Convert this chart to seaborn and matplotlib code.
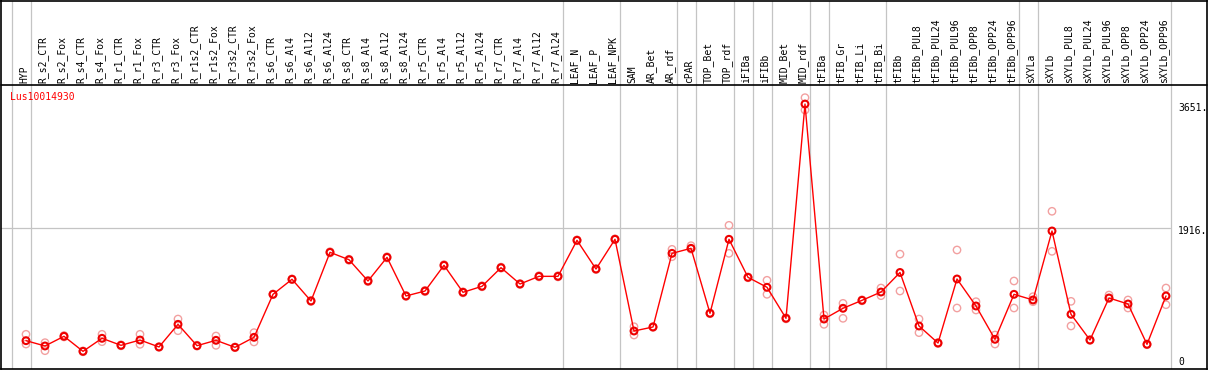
import numpy as np
import pandas as pd
import matplotlib
matplotlib.use("Agg")
import matplotlib.pyplot as plt
import seaborn as sns

# ---------------- data ----------------
gene = "Lus10014930"
categories = [
    "HYP", "R_s2_CTR", "R_s2_Fox", "R_s4_CTR", "R_s4_Fox", "R_r1_CTR", "R_r1_Fox",
    "R_r3_CTR", "R_r3_Fox", "R_r1s2_CTR", "R_r1s2_Fox", "R_r3s2_CTR", "R_r3s2_Fox",
    "R_s6_CTR", "R_s6_Al4", "R_s6_Al12", "R_s6_Al24", "R_s8_CTR", "R_s8_Al4",
    "R_s8_Al12", "R_s8_Al24", "R_r5_CTR", "R_r5_Al4", "R_r5_Al12", "R_r5_Al24",
    "R_r7_CTR", "R_r7_Al4", "R_r7_Al12", "R_r7_Al24", "LEAF_N", "LEAF_P", "LEAF_NPK",
    "SAM", "AR_Bet", "AR_rdf", "cPAR", "TOP_Bet", "TOP_rdf", "iFIBa", "iFIBb",
    "MID_Bet", "MID_rdf", "tFIBa", "tFIB_Gr", "tFIB_Li", "tFIB_Bi", "tFIBb",
    "tFIBb_PUL8", "tFIBb_PUL24", "tFIBb_PUL96", "tFIBb_OPP8", "tFIBb_OPP24",
    "tFIBb_OPP96", "sXYLa", "sXYLb", "sXYLb_PUL8", "sXYLb_PUL24", "sXYLb_PUL96",
    "sXYLb_OPP8", "sXYLb_OPP24", "sXYLb_OPP96",
]
means = [348, 274, 409, 199, 381, 283, 357, 260, 576, 278, 353, 255, 395,
         995, 1205, 902, 1581, 1478, 1181, 1511, 972, 1041, 1400, 1023, 1107,
         1367, 1139, 1246, 1246, 1749, 1348, 1763, 483, 539, 1567, 1637, 730,
         1763, 1232, 1093, 660, 3651, 650, 800, 911, 1027, 1300, 553, 315, 1209,
         832, 367, 995, 916, 1879, 716, 357, 944, 860, 297, 972]
rep_hi = [437, 320, 420, 205, 437, 290, 437, 265, 650, 285, 413, 260, 460,
          1000, 1210, 910, 1590, 1485, 1190, 1520, 980, 1050, 1410, 1030, 1115,
          1375, 1145, 1255, 1255, 1755, 1355, 1770, 543, 545, 1623, 1674, 736,
          1958, 1238, 1191, 668, 3740, 706, 869, 918, 1083, 1556, 650, 322, 1614,
          892, 427, 1181, 962, 2154, 897, 362, 985, 916, 303, 1083]
rep_lo = [301, 208, 400, 193, 334, 276, 297, 255, 487, 272, 283, 250, 330,
          990, 1200, 895, 1572, 1470, 1172, 1502, 965, 1032, 1390, 1015, 1100,
          1360, 1132, 1238, 1238, 1742, 1340, 1756, 427, 533, 1520, 1625, 724,
          1567, 1226, 995, 652, 3568, 576, 660, 904, 976, 1041, 460, 308, 804,
          776, 301, 804, 892, 1595, 553, 352, 935, 804, 291, 850]
group_ends = [-1, 0, 28, 31, 34, 35, 37, 38, 39, 41, 42, 45, 52, 53, 60]
ref_values = [3651, 1916, 0]
ref_labels = ["3651.", "1916.", "0"]

# ---------------- frames ----------------
pos = np.arange(len(categories))
df = pd.DataFrame({"pos": pos, "cat": categories, "mean": means})
df_rep = pd.DataFrame({
    "pos": np.concatenate([pos, pos]),
    "value": np.concatenate([rep_hi, rep_lo]),
})

sns.set_theme(style="white")
plt.rcParams["font.family"] = ["DejaVu Sans Mono", "DejaVu Sans"]

W, H = 1209, 370
fig = plt.figure(figsize=(W / 100, H / 100), dpi=100)
ax = fig.add_axes([1 / W, 1 / H, 1206 / W, 368.5 / H])

# pixel geometry of reference: x_px = 26 + 19*i ; y_top = 365.6 - 0.07164*v
x0, dx = 26.0, 19.0
y0, k = 365.6, 0.07164
ax.set_xlim((1 - x0) / dx, (1207 - x0) / dx)
ax.set_ylim((y0 - 369) / k, (y0 - 0.5) / k)

grey = "#c4c4c4"
for g in group_ends:
    ax.axvline(g + 0.25, color=grey, lw=0.9, zorder=1)
ax.axhline(1916, xmin=0, xmax=(1170 - 1) / 1206, color=grey, lw=0.9, zorder=1)

header_frac = (369 - 85) / 368.5
ax.plot([0, 1], [header_frac, header_frac], transform=ax.transAxes,
        color="black", lw=1.2, zorder=5, clip_on=False)

# replicates
sns.scatterplot(data=df_rep, x="pos", y="value", ax=ax, marker="o", s=28,
                facecolors="none", edgecolor="#f2a0a0", linewidth=1.0,
                zorder=3, legend=False)
# mean line
sns.lineplot(data=df, x="pos", y="mean", ax=ax, color="#ff0000", lw=1.0,
             zorder=4, legend=False)
sns.scatterplot(data=df, x="pos", y="mean", ax=ax, marker="o", s=24,
                facecolors="none", edgecolor="#ee0000", linewidth=1.5,
                zorder=6, legend=False)

# header labels
lab_frac = (369 - 83) / 368.5
xt = ax.get_xaxis_transform()
for i, c in enumerate(categories):
    ax.text(i - 2 / dx, lab_frac, c, transform=xt, rotation=90,
            ha="center", va="bottom", fontsize=7, color="black")

ax.text((10 - 1) / 1206, (369 - 97.5) / 368.5, gene, transform=ax.transAxes,
        ha="left", va="center", fontsize=7, color="#ff0000")

offsets_px = [-4, -3, 4]
for v, lab, off in zip(ref_values, ref_labels, offsets_px):
    ax.annotate(lab, xy=((1178 - x0) / dx, v), xytext=(0, off * 0.72),
                textcoords="offset points", ha="left", va="center",
                fontsize=7, color="black")

ax.set_xticks([])
ax.set_yticks([])
ax.set_xlabel("")
ax.set_ylabel("")
for sp in ax.spines.values():
    sp.set_visible(True)
    sp.set_color("black")
    sp.set_linewidth(1.2)

fig.savefig("out.png", dpi=100)
